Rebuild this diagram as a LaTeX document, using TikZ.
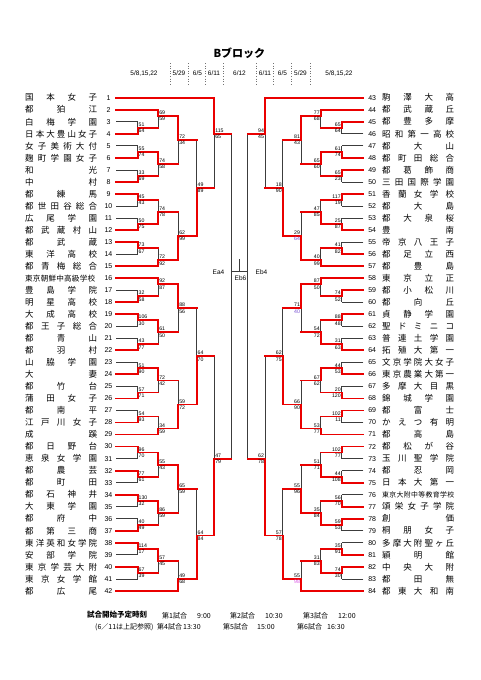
\documentclass[tikz,border=0pt]{standalone}
\usepackage{fontspec}
\setmainfont{Liberation Sans}
\newfontfamily\jpf{Noto Sans CJK JP}
\definecolor{rl}{RGB}{234,0,0}
\definecolor{bl}{RGB}{60,60,60}
\definecolor{pu}{RGB}{120,80,210}
\definecolor{pk}{RGB}{220,90,230}
\pgfdeclarelayer{bg}
\pgfsetlayers{bg,main}
\ExplSyntaxOn
\bool_new:N \l_spr_first_bool
\NewDocumentCommand{\spr}{O{72pt}m}{
  \hbox_to_wd:nn {#1} {
    \bool_set_true:N \l_spr_first_bool
    \exp_args:No \tl_map_inline:nn {#2} {
      \bool_if:NTF \l_spr_first_bool {\bool_set_false:N \l_spr_first_bool} {\hfil}
      ##1
    }
  }
}
\ExplSyntaxOff
\newcounter{jn}
\newcommand\JL[8]{%
  \stepcounter{jn}%
  \if#8t
    \begin{pgfonlayer}{bg}\draw[blk] (#1,{ry(#4)}) -- (#1,{ry(#5)});\end{pgfonlayer}
    \draw[rd] (#1,{ry(#3)}) -- (#1,{ry(#4)}) -- (#2,{ry(#4)});
  \else
    \begin{pgfonlayer}{bg}\draw[blk] (#1,{ry(#3)}) -- (#1,{ry(#4)});\end{pgfonlayer}
    \draw[rd] (#1,{ry(#5)}) -- (#1,{ry(#4)}) -- (#2,{ry(#4)});
  \fi
  \node[sc,anchor=south west] (j\thejn t) at (#1,{ry(#4)}) {#6};
  \node[sc,anchor=north west] (j\thejn b) at (#1,{ry(#4)}) {#7};
}
\newcommand\JR[8]{%
  \stepcounter{jn}%
  \if#8t
    \begin{pgfonlayer}{bg}\draw[blk] (#1,{ry(#4)}) -- (#1,{ry(#5)});\end{pgfonlayer}
    \draw[rd] (#1,{ry(#3)}) -- (#1,{ry(#4)}) -- (#2,{ry(#4)});
  \else
    \begin{pgfonlayer}{bg}\draw[blk] (#1,{ry(#3)}) -- (#1,{ry(#4)});\end{pgfonlayer}
    \draw[rd] (#1,{ry(#5)}) -- (#1,{ry(#4)}) -- (#2,{ry(#4)});
  \fi
  \node[sc,anchor=south east] (j\thejn t) at (#1,{ry(#4)}) {#6};
  \node[sc,anchor=north east] (j\thejn b) at (#1,{ry(#4)}) {#7};
}
\begin{document}
\begin{tikzpicture}[x=1pt,y=-1pt,
  declare function={ry(\r)=97.7+12.03*(\r-1);},
  rd/.style={draw=rl,line width=1.8pt,line cap=rect},
  blk/.style={draw=bl,line width=0.7pt},
  sep/.style={draw=black!55,line width=0.6pt,dotted},
  sc/.style={font=\fontsize{5.2}{5.2}\selectfont,inner xsep=0.8pt,inner ysep=1.1pt},
  nm/.style={font=\jpf\fontsize{8.5}{9}\selectfont,inner sep=0pt,anchor=west},
  num/.style={font=\fontsize{7}{7}\selectfont,inner sep=0pt},
  dt/.style={font=\fontsize{6.5}{6.5}\selectfont,inner sep=0pt},
  lab/.style={font=\fontsize{6.5}{6.5}\selectfont,inner sep=0pt},
  ft/.style={font=\jpf\fontsize{7}{7}\selectfont,inner sep=0pt,anchor=west}]
\begin{pgfonlayer}{bg}
\fill[white] (0,0) rectangle (481,680);
\end{pgfonlayer}
\useasboundingbox (0,0) rectangle (481,680);

% ---- header
\node[font=\jpf\bfseries\fontsize{11}{11}\selectfont,inner sep=0pt] (title) at (239.4,53) {Bブロック};
\node[dt] (d1) at (144,73.3) {5/8,15,22};
\node[dt] (d2) at (179,73.3) {5/29};
\node[dt] (d3) at (197.5,73.3) {6/5};
\node[dt] (d4) at (214,73.3) {6/11};
\node[dt] (d5) at (239.5,73.3) {6/12};
\node[dt] (d6) at (265,73.3) {6/11};
\node[dt] (d7) at (282.5,73.3) {6/5};
\node[dt] (d8) at (300.5,73.3) {5/29};
\node[dt] (d9) at (339,73.3) {5/8,15,22};
\foreach \x in {170,188.3,205,223.3,256.7,273.3,291.7,310}
  \draw[sep] (\x,63) -- (\x,85);

% ---- left names
\foreach \r/\n in {1/国本女子,2/都狛江,3/白梅学園,4/日本大豊山女子,5/女子美術大付,6/麹町学園女子,7/和光,8/中村,9/都練馬,10/都世田谷総合,11/広尾学園,12/都武蔵村山,13/都武蔵,14/東洋高校,15/都青梅総合,17/豊島学院,18/明星高校,19/大成高校,20/都王子総合,21/都青山,22/都羽村,23/山脇学園,24/大妻,25/都竹台,26/蒲田女子,27/都南平,28/江戸川女子,29/成蹊,30/都日野台,31/恵泉女学園,32/都農芸,33/都町田,34/都石神井,35/大東学園,36/都府中,37/都第三商,38/東洋英和女学院,39/安部学院,40/東京学芸大附,41/東京女学館,42/都広尾}
  \node[nm] (nL\r) at (25,{ry(\r)}) {\spr{\n}};
\node[nm,font=\jpf\fontsize{7.6}{8}\selectfont] (nL16) at (25,{ry(16)}) {\spr[70pt]{東京朝鮮中高級学校}};
\foreach \r in {1,...,42}
  \node[num] (kL\r) at (108.5,{ry(\r)}) {\r};

% ---- right names
\foreach \r/\n in {1/駒澤大高,2/都武蔵丘,3/都豊多摩,4/昭和第一高校,5/都大山,6/都町田総合,7/都葛飾商,8/三田国際学園,9/香蘭女学校,10/都大島,11/都大泉桜,12/豊南,13/帝京八王子,14/都足立西,15/都豊島,16/東京立正,17/都小松川,18/都向丘,19/貞静学園,20/聖ドミニコ,21/普連土学園,22/拓殖大第一,23/文京学院大女子,24/東京農業大第一,25/多摩大目黒,26/錦城学園,27/都富士,28/かえつ有明,29/都高島,30/都松が谷,31/玉川聖学院,32/都忍岡,33/日本大第一,35/頌栄女子学院,36/創価,37/桐朋女子,38/多摩大附聖ヶ丘,39/穎明館,40/中央大附,41/都田無,42/都東大和南}
  \node[nm] (nR\r) at (382,{ry(\r)}) {\spr{\n}};
\node[nm,font=\jpf\fontsize{6.9}{7}\selectfont] (nR34) at (382,{ry(34)}) {\spr{東京大附中等教育学校}};
\foreach \r in {1,...,42}
  \node[num] (kR\r) at (372.2,{ry(\r)}) {\number\numexpr\r+42\relax};

% ---- leaves left
\foreach \r in {4,6,8,9,12,13,18,19,22,24,26,28,30,32,34,37,38,40}
  \draw[rd] (116,{ry(\r)}) -- (137.7,{ry(\r)});
\begin{pgfonlayer}{bg}
\foreach \r in {3,5,7,10,11,14,17,20,21,23,25,27,31,33,35,36,39,41}
  \draw[blk] (116,{ry(\r)}) -- (137.7,{ry(\r)});
\end{pgfonlayer}
\draw[rd] (116,{ry(1)}) -- (214.3,{ry(1)});
\foreach \r in {2,15,16,29}
  \draw[rd] (116,{ry(\r)}) -- (158.3,{ry(\r)});
\draw[rd] (116,{ry(42)}) -- (178.3,{ry(42)});

% ---- leaves right
\foreach \r in {3,6,7,9,12,14,17,19,22,24,26,27,30,33,35,36,39,40}
  \draw[rd] (363.3,{ry(\r)}) -- (341.7,{ry(\r)});
\begin{pgfonlayer}{bg}
\foreach \r in {4,5,8,10,11,13,18,20,21,23,25,28,31,32,34,37,38,41}
  \draw[blk] (363.3,{ry(\r)}) -- (341.7,{ry(\r)});
\end{pgfonlayer}
\draw[rd] (363.3,{ry(1)}) -- (265,{ry(1)});
\foreach \r in {2,15,16,29}
  \draw[rd] (363.3,{ry(\r)}) -- (320.7,{ry(\r)});
\draw[rd] (363.3,{ry(42)}) -- (301,{ry(42)});

% ---- left junctions
\JL{137.7}{158.3}{3}{3.5}{4}{51}{64}{b}
\JL{137.7}{158.3}{5}{5.5}{6}{55}{74}{b}
\JL{137.7}{158.3}{7}{7.5}{8}{33}{69}{b}
\JL{137.7}{158.3}{9}{9.5}{10}{45}{43}{t}
\JL{137.7}{158.3}{11}{11.5}{12}{50}{75}{b}
\JL{137.7}{158.3}{13}{13.5}{14}{73}{67}{t}
\JL{137.7}{158.3}{17}{17.5}{18}{32}{58}{b}
\JL{137.7}{158.3}{19}{19.5}{20}{106}{30}{t}
\JL{137.7}{158.3}{21}{21.5}{22}{43}{77}{b}
\JL{137.7}{158.3}{23}{23.5}{24}{51}{90}{b}
\JL{137.7}{158.3}{25}{25.5}{26}{57}{71}{b}
\JL{137.7}{158.3}{27}{27.5}{28}{54}{93}{b}
\JL{137.7}{158.3}{30}{30.5}{31}{96}{70}{t}
\JL{137.7}{158.3}{32}{32.5}{33}{77}{61}{t}
\JL{137.7}{158.3}{34}{34.5}{35}{130}{32}{t}
\JL{137.7}{158.3}{36}{36.5}{37}{40}{49}{b}
\JL{137.7}{158.3}{38}{38.5}{39}{114}{17}{t}
\JL{137.7}{158.3}{40}{40.5}{41}{67}{39}{t}
\JL{158.3}{178.3}{2}{2.5}{3.5}{69}{59}{t}
\JL{158.3}{178.3}{5.5}{6.5}{7.5}{74}{58}{t}
\JL{158.3}{178.3}{9.5}{10.5}{11.5}{74}{78}{b}
\JL{158.3}{178.3}{13.5}{14.5}{15}{72}{92}{b}
\JL{158.3}{178.3}{16}{16.5}{17.5}{92}{87}{t}
\JL{158.3}{178.3}{19.5}{20.5}{21.5}{61}{50}{t}
\JL{158.3}{178.3}{23.5}{24.5}{25.5}{72}{42}{t}
\JL{158.3}{178.3}{27.5}{28.5}{29}{34}{59}{b}
\JL{158.3}{178.3}{30.5}{31.5}{32.5}{55}{43}{t}
\JL{158.3}{178.3}{34.5}{35.5}{36.5}{86}{59}{t}
\JL{158.3}{178.3}{38.5}{39.5}{40.5}{57}{45}{t}
\JL{178.3}{196.7}{2.5}{4.5}{6.5}{72}{34}{t}
\JL{178.3}{196.7}{10.5}{12.5}{14.5}{62}{99}{b}
\JL{178.3}{196.7}{16.5}{18.5}{20.5}{88}{56}{t}
\JL{178.3}{196.7}{24.5}{26.5}{28.5}{59}{72}{b}
\JL{178.3}{196.7}{31.5}{33.5}{35.5}{65}{59}{t}
\JL{178.3}{196.7}{39.5}{41}{42}{49}{68}{b}
\JL{196.7}{214.3}{4.5}{8.5}{12.5}{49}{89}{b}
\JL{196.7}{214.3}{18.5}{22.5}{26.5}{64}{70}{b}
\JL{196.7}{214.3}{33.5}{37.4}{41}{64}{84}{b}
\JL{214.3}{231}{1}{4}{8.5}{115}{65}{t}
\JL{214.3}{231}{22.5}{31}{37.4}{47}{79}{b}

% ---- right junctions
\JR{341.7}{320.7}{3}{3.5}{4}{65}{64}{t}
\JR{341.7}{320.7}{5}{5.5}{6}{61}{74}{b}
\JR{341.7}{320.7}{7}{7.5}{8}{65}{23}{t}
\JR{341.7}{320.7}{9}{9.5}{10}{117}{19}{t}
\JR{341.7}{320.7}{11}{11.5}{12}{25}{87}{b}
\JR{341.7}{320.7}{13}{13.5}{14}{41}{82}{b}
\JR{341.7}{320.7}{17}{17.5}{18}{74}{52}{t}
\JR{341.7}{320.7}{19}{19.5}{20}{88}{48}{t}
\JR{341.7}{320.7}{21}{21.5}{22}{31}{63}{b}
\JR{341.7}{320.7}{23}{23.5}{24}{44}{53}{b}
\JR{341.7}{320.7}{25}{25.5}{26}{20}{120}{b}
\JR{341.7}{320.7}{27}{27.5}{28}{102}{11}{t}
\JR{341.7}{320.7}{30}{30.5}{31}{102}{77}{t}
\JR{341.7}{320.7}{32}{32.5}{33}{44}{108}{b}
\JR{341.7}{320.7}{34}{34.5}{35}{56}{70}{b}
\JR{341.7}{320.7}{36}{36.5}{37}{59}{53}{t}
\JR{341.7}{320.7}{38}{38.5}{39}{35}{91}{b}
\JR{341.7}{320.7}{40}{40.5}{41}{74}{30}{t}
\JR{320.7}{301}{2}{2.5}{3.5}{77}{68}{t}
\JR{320.7}{301}{5.5}{6.5}{7.5}{65}{60}{t}
\JR{320.7}{301}{9.5}{10.5}{11.5}{47}{85}{b}
\JR{320.7}{301}{13.5}{14.5}{15}{40}{99}{b}
\JR{320.7}{301}{16}{16.5}{17.5}{87}{50}{t}
\JR{320.7}{301}{19.5}{20.5}{21.5}{54}{72}{b}
\JR{320.7}{301}{23.5}{24.5}{25.5}{67}{62}{t}
\JR{320.7}{301}{27.5}{28.5}{29}{53}{77}{b}
\JR{320.7}{301}{30.5}{31.5}{32.5}{51}{71}{b}
\JR{320.7}{301}{34.5}{35.5}{36.5}{35}{84}{b}
\JR{320.7}{301}{38.5}{39.5}{40.5}{31}{83}{b}
\JR{301}{282.7}{2.5}{4.5}{6.5}{81}{43}{t}
\JR{301}{282.7}{10.5}{12.5}{14.5}{29}{\color{pu}64}{b}
\JR{301}{282.7}{16.5}{18.5}{20.5}{71}{\color{pu}40}{t}
\JR{301}{282.7}{24.5}{26.5}{28.5}{66}{90}{b}
\JR{301}{282.7}{31.5}{33.5}{35.5}{55}{96}{b}
\JR{301}{282.7}{39.5}{41}{42}{55}{\color{pk}98}{b}
\JR{282.7}{265}{4.5}{8.5}{12.5}{18}{90}{b}
\JR{282.7}{265}{18.5}{22.5}{26.5}{62}{75}{b}
\JR{282.7}{265}{33.5}{37.4}{41}{57}{78}{b}
\JR{265}{247.7}{1}{4}{8.5}{94}{45}{t}
\JR{265}{247.7}{22.5}{31}{37.4}{62}{78}{b}

% ---- centre
\begin{pgfonlayer}{bg}
\draw[blk] (231,{ry(4)}) -- (231,{ry(31)});
\draw[blk] (247.7,{ry(4)}) -- (247.7,{ry(31)});
\draw[blk] (231,271) -- (247.7,271);
\draw[blk] (239.4,259) -- (239.4,271);
\end{pgfonlayer}
\node[lab] (ea4) at (218.5,272) {Ea4};
\node[lab] (eb6) at (240.5,277.8) {Eb6};
\node[lab] (eb4) at (261.5,272) {Eb4};

% ---- footer
\node[ft,font=\jpf\bfseries\fontsize{7.5}{7.5}\selectfont] (f0) at (87,614.5) {試合開始予定時刻};
\node[ft] (f1) at (162,615.5) {第1試合};
\node[ft] (f1t) at (197,615.5) {9:00};
\node[ft] (f2) at (230,615.5) {第2試合};
\node[ft] (f2t) at (265,615.5) {10:30};
\node[ft] (f3) at (303,615.5) {第3試合};
\node[ft] (f3t) at (338,615.5) {12:00};
\node[ft] (g0) at (95,627) {(6／11は上記参照)};
\node[ft] (f4) at (157,627) {第4試合};
\node[ft] (f4t) at (183,627) {13:30};
\node[ft] (f5) at (223,627) {第5試合};
\node[ft] (f5t) at (257,627) {15:00};
\node[ft] (f6) at (297,627) {第6試合};
\node[ft] (f6t) at (327,627) {16:30};
\end{tikzpicture}
\end{document}
